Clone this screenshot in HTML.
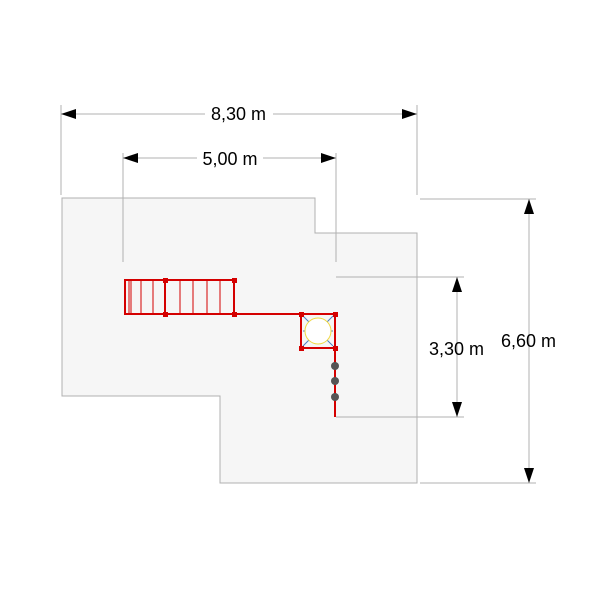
<!DOCTYPE html>
<html><head><style>body{margin:0;background:#fff}svg{display:block}</style></head><body>
<svg width="600" height="600" viewBox="0 0 600 600" font-family="Liberation Sans, sans-serif">
<polygon points="62,198 315,198 315,233 417,233 417,483 220,483 220,396 62,396" fill="#f6f6f6" stroke="#b0b0b0" stroke-width="1"/>
<g stroke="#b0b0b0" stroke-width="1" fill="none">
<line x1="61" y1="105" x2="61" y2="195"/>
<line x1="417" y1="105" x2="417" y2="195"/>
<line x1="61" y1="114" x2="417" y2="114"/>
<line x1="123" y1="153" x2="123" y2="262"/>
<line x1="336" y1="153" x2="336" y2="262"/>
<line x1="123" y1="158" x2="336" y2="158"/>
<line x1="420" y1="199" x2="536" y2="199"/>
<line x1="420" y1="483" x2="536" y2="483"/>
<line x1="529" y1="199" x2="529" y2="483"/>
<line x1="336" y1="277" x2="464" y2="277"/>
<line x1="336" y1="417" x2="464" y2="417"/>
<line x1="457" y1="277" x2="457" y2="417"/>
</g>
<g fill="#000">
<polygon points="61,114 76,109 76,119"/><polygon points="417,114 402,109 402,119"/>
<polygon points="123,158 138,153 138,163"/><polygon points="336,158 321,153 321,163"/>
<polygon points="529,199 524,214 534,214"/><polygon points="529,483 524,468 534,468"/>
<polygon points="457,277 452,292 462,292"/><polygon points="457,417 452,402 462,402"/>
</g>
<g font-size="18" fill="#000">
<rect x="205" y="104" width="68" height="20" fill="#fff"/>
<text x="238.5" y="120" text-anchor="middle">8,30 m</text>
<rect x="197" y="148" width="66" height="20" fill="#fff"/>
<text x="230" y="165" text-anchor="middle">5,00 m</text>
<text x="528.5" y="347" text-anchor="middle">6,60 m</text>
<text x="456.5" y="355" text-anchor="middle">3,30 m</text>
</g>
<g stroke="#d40000" stroke-width="2" fill="none">
<rect x="125" y="280" width="109" height="34"/>
<line x1="165" y1="280" x2="165" y2="314"/>
<line x1="234" y1="314" x2="301" y2="314"/>
<rect x="301" y="314" width="34" height="34"/>
<line x1="335" y1="348" x2="335" y2="417"/>
</g>
<g stroke="#d40000" stroke-width="1">
<line x1="129" y1="280" x2="129" y2="314"/><line x1="131" y1="280" x2="131" y2="314"/>
<line x1="141" y1="280" x2="141" y2="314"/><line x1="153" y1="280" x2="153" y2="314"/>
<line x1="180" y1="280" x2="180" y2="314"/><line x1="193" y1="280" x2="193" y2="314"/>
<line x1="207" y1="280" x2="207" y2="314"/><line x1="220" y1="280" x2="220" y2="314"/>
</g>
<g stroke="#4a7fc0" stroke-width="1">
<line x1="303" y1="316" x2="312" y2="325"/><line x1="333" y1="316" x2="324" y2="325"/>
<line x1="303" y1="346" x2="312" y2="337"/><line x1="333" y1="346" x2="324" y2="337"/>
<line x1="303" y1="331" x2="306" y2="331"/><line x1="333" y1="331" x2="330" y2="331"/>
</g>
<circle cx="318" cy="331" r="13" fill="#fff" stroke="#f0d840" stroke-width="1"/>
<g fill="#d40000">
<rect x="163" y="278" width="5" height="5"/><rect x="232" y="278" width="5" height="5"/>
<rect x="163" y="312" width="5" height="5"/><rect x="232" y="312" width="5" height="5"/>
<rect x="299" y="312" width="5" height="5"/><rect x="333" y="312" width="5" height="5"/>
<rect x="299" y="346" width="5" height="5"/><rect x="333" y="346" width="5" height="5"/>
</g>
<g fill="#555">
<circle cx="335" cy="366" r="4"/><circle cx="335" cy="381" r="4"/><circle cx="335" cy="397" r="4"/>
</g>
</svg>
</body></html>
